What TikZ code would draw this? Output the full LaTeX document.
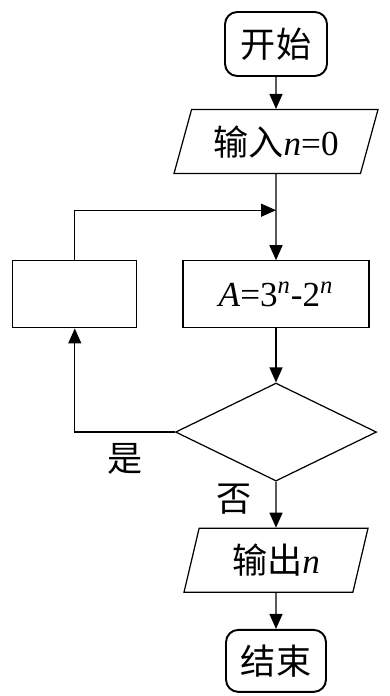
\documentclass[tikz,border=0pt]{standalone}
\usepackage{fontspec}
\setmainfont{Liberation Serif}
\newfontfamily\cjk{Noto Sans CJK SC}
\usetikzlibrary{
  positioning,
  arrows.meta,
  shapes.geometric
}

\begin{document}
\begin{tikzpicture}[
  >={Triangle[length=0.3cm,width=0.26cm]},
  line width=0.7pt,
  term/.style={
    rectangle, rounded corners=7pt, draw, line width=1.1pt,
    minimum width=2.04cm, minimum height=1.28cm, inner sep=2pt,
    font=\fontsize{20}{24}\selectfont
  },
  io/.style={
    trapezium, trapezium stretches body, draw, minimum height=1.28cm,
    inner sep=2pt, font=\fontsize{20}{24}\selectfont
  },
  proc/.style={
    rectangle, draw, minimum height=1.34cm, inner sep=2pt,
    font=\fontsize{20}{24}\selectfont
  },
  decide/.style={
    diamond, draw, minimum width=4.02cm, minimum height=1.96cm, inner sep=0pt
  },
  lbl/.style={font=\fontsize{20}{24}\selectfont\cjk}
]

\useasboundingbox (0,0) rectangle (7.8,-13.92);

\node[term] (start) at (5.52,-0.88) {\cjk 开始};
\node[io, trapezium left angle=66, trapezium right angle=114,
  minimum width=4.08cm, below=0.64cm of start] (input)
  {{\cjk 输入}\textit{n}=0};
\node[proc, minimum width=3.72cm, below=1.72cm of input] (calc)
  {\textit{A}=3\textsuperscript{\textit{n}}-2\textsuperscript{\textit{n}}};
\node[proc, minimum width=2.48cm, left=0.9cm of calc] (blank) {};
\node[decide, below=1.08cm of calc] (check) {};
\node[io, trapezium left angle=69, trapezium right angle=111,
  minimum width=3.68cm, below=0.92cm of check] (output)
  {{\cjk 输出}\textit{n}};
\node[term, minimum width=2.0cm, minimum height=1.24cm,
  below=0.72cm of output] (stop) {\cjk 结束};

\coordinate[above=1.0cm of calc.north] (join);

\draw[->] (start) -- (input);
\draw[->] (input) -- (calc);
\draw[->] (blank.north) |- (join);
\draw[->] (calc) -- (check);
\draw[->] (check.west) -| node[lbl, pos=0.25, below=3pt] {是} (blank.south);
\draw[->] (check) -- node[lbl, pos=0.38, left=0.35cm] {否} (output);
\draw[->] (output) -- (stop);

\end{tikzpicture}
\end{document}
